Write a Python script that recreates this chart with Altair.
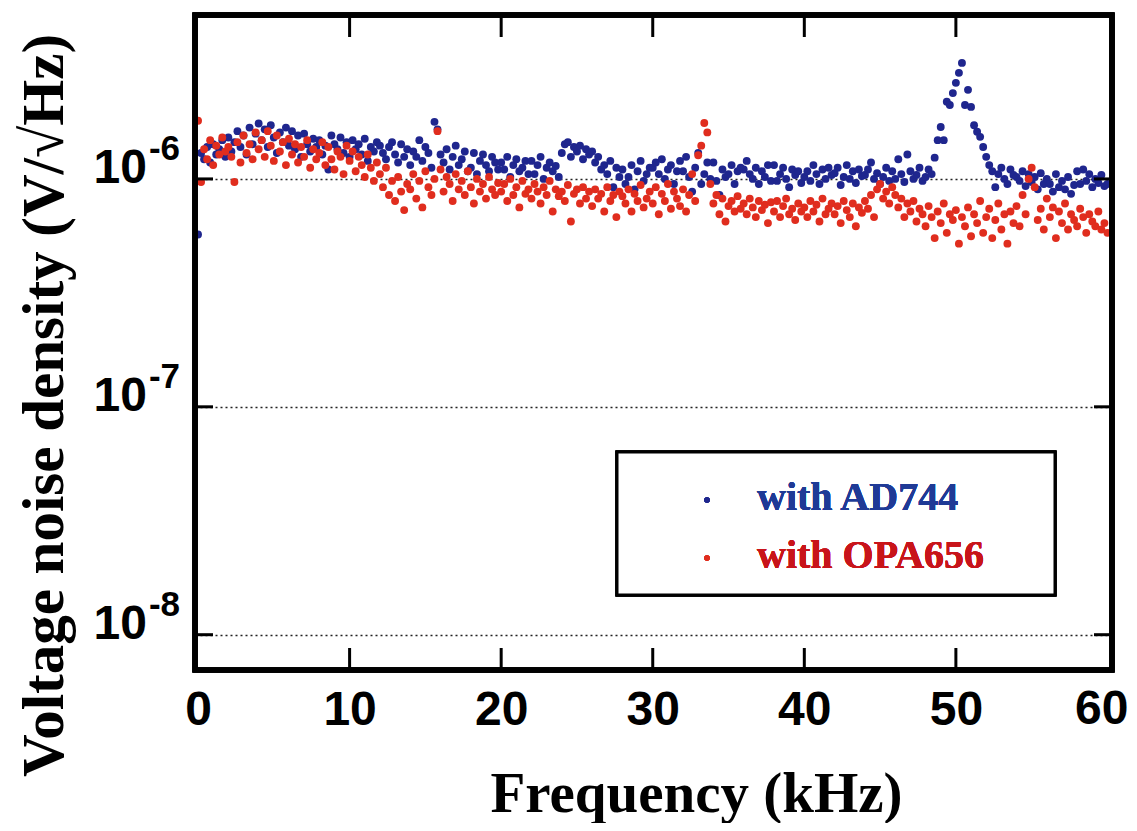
import altair as alt
import pandas as pd

# ---------------- data (values in units of 1e-6 V/sqrt(Hz)) ----------------
series_names = ["with AD744", "with OPA656"]

ad744 = [
    0.57, 1.30, 1.22, 1.38, 1.18, 1.42, 1.28, 1.35, 1.48, 1.25,
    1.52, 1.32, 1.45, 1.62, 1.38, 1.55, 1.28, 1.68, 1.42, 1.58,
    1.75, 1.48, 1.65, 1.38, 1.72, 1.52, 1.30, 1.60, 1.45, 1.68,
    1.40, 1.62, 1.35, 1.55, 1.25, 1.58, 1.42, 1.32, 1.50, 1.38,
    1.48, 1.28, 1.40, 1.10, 1.55, 1.42, 1.35, 1.52, 1.30, 1.45,
    1.25, 1.48, 1.35, 1.42, 1.28, 1.50, 1.20, 1.38, 1.32, 1.45,
    1.40, 1.30, 1.22, 1.38, 1.45, 1.28, 1.18, 1.42, 1.25, 1.35,
    1.15, 1.32, 1.25, 1.48, 1.20, 1.38, 1.30, 1.12, 1.78, 1.65,
    1.28, 1.18, 1.35, 1.10, 1.25, 1.40, 1.15, 1.22, 1.32, 1.08,
    1.12, 1.30, 1.05, 1.20, 1.28, 1.15, 1.08, 1.25, 1.18, 1.10,
    1.18, 1.10, 1.25, 1.02, 1.15, 1.22, 1.08, 1.12, 1.20, 1.05,
    1.20, 1.05, 1.15, 1.25, 1.00, 1.12, 1.18, 1.08, 1.14, 1.02,
    1.30, 1.42, 1.45, 1.25, 1.38, 1.32, 1.40, 1.22, 1.35, 1.28,
    1.32, 1.18, 1.25, 1.10, 1.15, 1.05, 1.20, 0.92, 1.12, 1.02,
    1.10, 0.95, 1.02, 1.15, 0.90, 1.08, 1.20, 0.98, 1.05, 1.12,
    1.12, 1.18, 1.05, 1.22, 1.00, 1.10, 1.15, 0.95, 1.08, 1.20,
    1.08, 1.25, 1.02, 0.88, 1.12, 1.30, 0.95, 1.05, 1.18, 1.00,
    1.18, 0.98, 0.85, 1.10, 1.02, 1.05, 1.15, 0.95, 1.08, 1.12,
    1.10, 1.20, 1.05, 1.00, 1.12, 0.95, 1.08, 1.02, 1.15, 0.98,
    1.15, 0.98, 1.05, 1.12, 1.00, 0.92, 1.10, 1.04, 1.08, 0.96,
    1.02, 1.08, 0.98, 1.15, 1.05, 0.95, 1.10, 1.00, 1.12, 1.04,
    1.06, 1.12, 0.94, 1.02, 1.15, 1.00, 1.08, 0.96, 1.10, 1.03,
    1.04, 1.10, 1.18, 1.00, 1.06, 0.95, 1.02, 1.12, 0.98, 1.08,
    1.00, 1.22, 1.05, 0.97, 1.28, 1.08, 1.00, 1.04, 1.12, 0.98,
    1.02, 1.10, 1.05, 1.24, 1.48, 1.69, 1.48, 2.18, 2.11, 2.38,
    2.64, 2.92, 3.23, 2.11, 2.46, 2.07, 1.72, 1.61, 1.53, 1.38,
    1.25, 1.15, 1.08, 0.92, 1.05, 1.12, 1.00, 0.95, 1.10, 1.04,
    1.02, 0.98, 1.08, 0.93, 1.05, 0.97, 1.02, 0.90, 1.06, 0.95,
    1.00, 0.95, 0.88, 1.05, 0.92, 0.98, 0.90, 1.02, 0.86, 0.94,
    1.08, 0.95, 1.10, 0.98, 1.05, 0.92, 1.00, 0.96, 1.04, 0.93,
    0.95,
]

opa656 = [
    1.80, 0.97, 1.35, 1.22, 1.48, 1.15, 1.40, 1.28, 1.52, 1.32,
    1.38, 1.25, 0.97, 1.45, 1.18, 1.55, 1.30, 1.42, 1.22, 1.60,
    1.35, 1.48, 1.25, 1.62, 1.40, 1.20, 1.55, 1.32, 1.45, 1.15,
    1.50, 1.28, 1.42, 1.18, 1.38, 1.25, 1.48, 1.12, 1.35, 1.22,
    1.30, 1.45, 1.15, 1.38, 1.22, 1.10, 1.32, 1.25, 1.05, 1.40,
    1.20, 1.32, 1.08, 1.25, 1.15, 1.02, 1.28, 1.12, 0.98, 1.18,
    1.05, 0.92, 1.12, 0.85, 0.98, 0.80, 1.02, 0.88, 0.73, 0.95,
    0.90, 1.05, 0.82, 0.98, 0.75, 1.08, 0.92, 0.85, 1.00, 1.62,
    1.10, 0.88, 1.02, 0.95, 0.80, 1.05, 0.90, 0.98, 0.85, 1.08,
    0.92, 0.78, 1.00, 0.88, 0.95, 0.82, 1.02, 0.90, 0.85, 0.96,
    0.88, 0.95, 0.80, 1.00, 0.85, 0.92, 0.75, 0.98, 0.86, 0.90,
    0.82, 0.95, 0.88, 0.78, 0.92, 0.85, 0.98, 0.72, 0.90, 0.84,
    0.88, 0.80, 0.94, 0.65, 0.86, 0.90, 0.78, 0.92, 0.82, 0.88,
    0.76, 0.90, 0.82, 0.86, 0.72, 0.92, 0.80, 0.85, 0.68, 0.88,
    0.84, 0.78, 0.90, 0.72, 0.86, 0.80, 0.94, 0.75, 0.82, 0.88,
    0.78, 0.92, 0.70, 0.86, 0.80, 0.95, 0.74, 0.88, 0.82, 0.76,
    0.90, 0.72, 0.85, 1.05, 0.80, 1.27, 1.40, 1.76, 1.60, 0.95,
    0.78, 0.85, 0.70, 0.82, 0.65, 0.76, 0.80, 0.72, 0.84, 0.74,
    0.78, 0.70, 0.82, 0.75, 0.68, 0.80, 0.73, 0.77, 0.64, 0.79,
    0.72, 0.80, 0.68, 0.76, 0.82, 0.70, 0.74, 0.66, 0.78, 0.72,
    0.75, 0.68, 0.80, 0.72, 0.77, 0.65, 0.82, 0.70, 0.74, 0.78,
    0.70, 0.76, 0.64, 0.80, 0.73, 0.68, 0.78, 0.62, 0.75, 0.71,
    0.80, 0.74, 0.85, 0.68, 0.90, 0.95, 0.82, 0.88, 0.78, 0.92,
    0.85, 0.75, 0.82, 0.68, 0.78, 0.72, 0.80, 0.65, 0.74, 0.70,
    0.62, 0.76, 0.68, 0.55, 0.72, 0.64, 0.78, 0.58, 0.70, 0.66,
    0.73, 0.52, 0.68, 0.62, 0.75, 0.56, 0.70, 0.64, 0.80, 0.58,
    0.68, 0.74, 0.55, 0.66, 0.78, 0.60, 0.70, 0.52, 0.72, 0.64,
    0.76, 0.62, 0.85, 0.70, 1.00, 1.12, 0.92, 0.66, 0.74, 0.60,
    0.82, 0.68, 0.75, 0.55, 0.72, 0.64, 0.78, 0.60, 0.70, 0.66,
    0.62, 0.74, 0.68, 0.58, 0.70, 0.65, 0.62, 0.72, 0.60, 0.64,
    0.58,
]

# FFT bin frequencies (kHz), 0.2 kHz spacing
freq = [round(i * 0.2, 1) for i in range(len(ad744))]

x_ticks = [10, 20, 30, 40, 50]
x_labels = [0, 10, 20, 30, 40, 50]
x_last_label = [60]
y_decades = [1e-8, 1e-7, 1e-6]
y_exponents = ["-8", "-7", "-6"]

# ---------------- tables ----------------
pts = pd.DataFrame({
    "freq": freq + freq,
    "val": [v * 1e-6 for v in ad744] + [v * 1e-6 for v in opa656],
    "series": [series_names[0]] * len(ad744) + [series_names[1]] * len(opa656),
})
xt = pd.DataFrame({"freq": x_ticks})
xl = pd.DataFrame({"freq": x_last_label, "lab": [str(v) for v in x_last_label]})
yt = pd.DataFrame({"val": y_decades, "exp": y_exponents})

W, H = 917, 655
BLUE_PT, RED_PT = "#1f268e", "#e02d1e"
BLUE_TXT, RED_TXT = "#1f3a96", "#c8141a"

xs = alt.Scale(domain=[-0.2, 60.3], nice=False, zero=False)
ys = alt.Scale(type="log", domain=[7.0e-9, 5.24e-6], nice=False)

x_axis = alt.Axis(
    values=x_labels, format="d", grid=False, ticks=False, tickSize=0, domain=False,
    labelFont="Liberation Sans", labelFontWeight="bold", labelFontSize=48,
    labelColor="black", labelPadding=16, labelFlush=False,
    title="Frequency (kHz)", titleFont="Liberation Serif", titleFontWeight="bold",
    titleFontSize=57, titleColor="black", titleX=501, titleY=141,
    titleAlign="center", titleBaseline="alphabetic",
)
y_axis = alt.Axis(
    values=y_decades, labels=False, ticks=False, domain=False,
    grid=True, gridDash=[2, 3], gridColor="#222222", gridWidth=1.5, gridOpacity=1,
    title="Voltage noise density (V/√Hz)", titleFont="Liberation Serif",
    titleFontWeight="bold", titleFontSize=59, titleColor="black",
    titleAngle=270, titleX=-133, titleY=390, titleAlign="center",
    titleBaseline="alphabetic",
)

X = alt.X("freq:Q", scale=xs, axis=x_axis)
Y = alt.Y("val:Q", scale=ys, axis=y_axis)

points = alt.Chart(pts).mark_circle(size=62, opacity=1).encode(
    x=X, y=Y,
    color=alt.Color("series:N", scale=alt.Scale(domain=series_names, range=[BLUE_PT, RED_PT]), legend=None),
)

tick_top = alt.Chart(xt).mark_rule(color="black", strokeWidth=3).encode(x=X, y=alt.value(0), y2=alt.value(22))
tick_bot = alt.Chart(xt).mark_rule(color="black", strokeWidth=3).encode(x=X, y=alt.value(H), y2=alt.value(H - 22))
tick_left = alt.Chart(yt).mark_rule(color="black", strokeWidth=3).encode(y=Y, x=alt.value(0), x2=alt.value(18))
tick_right = alt.Chart(yt).mark_rule(color="black", strokeWidth=3).encode(y=Y, x=alt.value(W), x2=alt.value(W - 18))

# last x label, nudged inward so it stays inside the page
lab_x60 = alt.Chart(xl).mark_text(
    font="Liberation Sans", fontWeight="bold", fontSize=48, align="right",
    baseline="alphabetic", color="black", dx=21,
).encode(x=X, y=alt.value(H + 54), text="lab:N")

lab_base = alt.Chart(yt).mark_text(
    font="Liberation Sans", fontWeight="bold", fontSize=48, align="right",
    baseline="alphabetic", dy=4, color="black",
).encode(y=Y, x=alt.value(-48), text=alt.value("10"))
lab_exp = alt.Chart(yt).mark_text(
    font="Liberation Sans", fontWeight="bold", fontSize=35, align="right",
    baseline="alphabetic", dy=-19, color="black",
).encode(y=Y, x=alt.value(-15), text="exp:N")

leg_box = alt.Chart(xt).mark_rect(fill="white", stroke="black", strokeWidth=3).encode(
    x=alt.value(422), x2=alt.value(860), y=alt.value(437), y2=alt.value(580)
)
leg_dot1 = alt.Chart(xt).mark_circle(size=30, opacity=1, color=BLUE_PT).encode(x=alt.value(512), y=alt.value(485))
leg_dot2 = alt.Chart(xt).mark_circle(size=30, opacity=1, color=RED_PT).encode(x=alt.value(512), y=alt.value(543))
leg_t1 = alt.Chart(xt).mark_text(
    font="Liberation Serif", fontWeight="bold", fontSize=40, align="left",
    baseline="alphabetic", color=BLUE_TXT,
).encode(x=alt.value(562), y=alt.value(495), text=alt.value(series_names[0]))
leg_t2 = alt.Chart(xt).mark_text(
    font="Liberation Serif", fontWeight="bold", fontSize=40, align="left",
    baseline="alphabetic", color=RED_TXT,
).encode(x=alt.value(562), y=alt.value(553), text=alt.value(series_names[1]))

frame = alt.Chart(xt).mark_rect(fill=None, stroke="black", strokeWidth=5).encode(
    x=alt.value(0), x2=alt.value(W), y=alt.value(0), y2=alt.value(H)
)

chart = alt.layer(
    points, tick_top, tick_bot, tick_left, tick_right, lab_x60, lab_base, lab_exp,
    leg_box, leg_dot1, leg_dot2, leg_t1, leg_t2, frame,
).properties(
    width=W, height=H,
    autosize=alt.AutoSizeParams(type="none"),
    padding={"left": 187, "top": 7, "right": 17, "bottom": 153},
).configure(
    background="white",
    view=alt.ViewConfig(stroke="black", strokeWidth=5),
)

chart.save("out.html", embed_options={"renderer": "svg", "actions": False})
